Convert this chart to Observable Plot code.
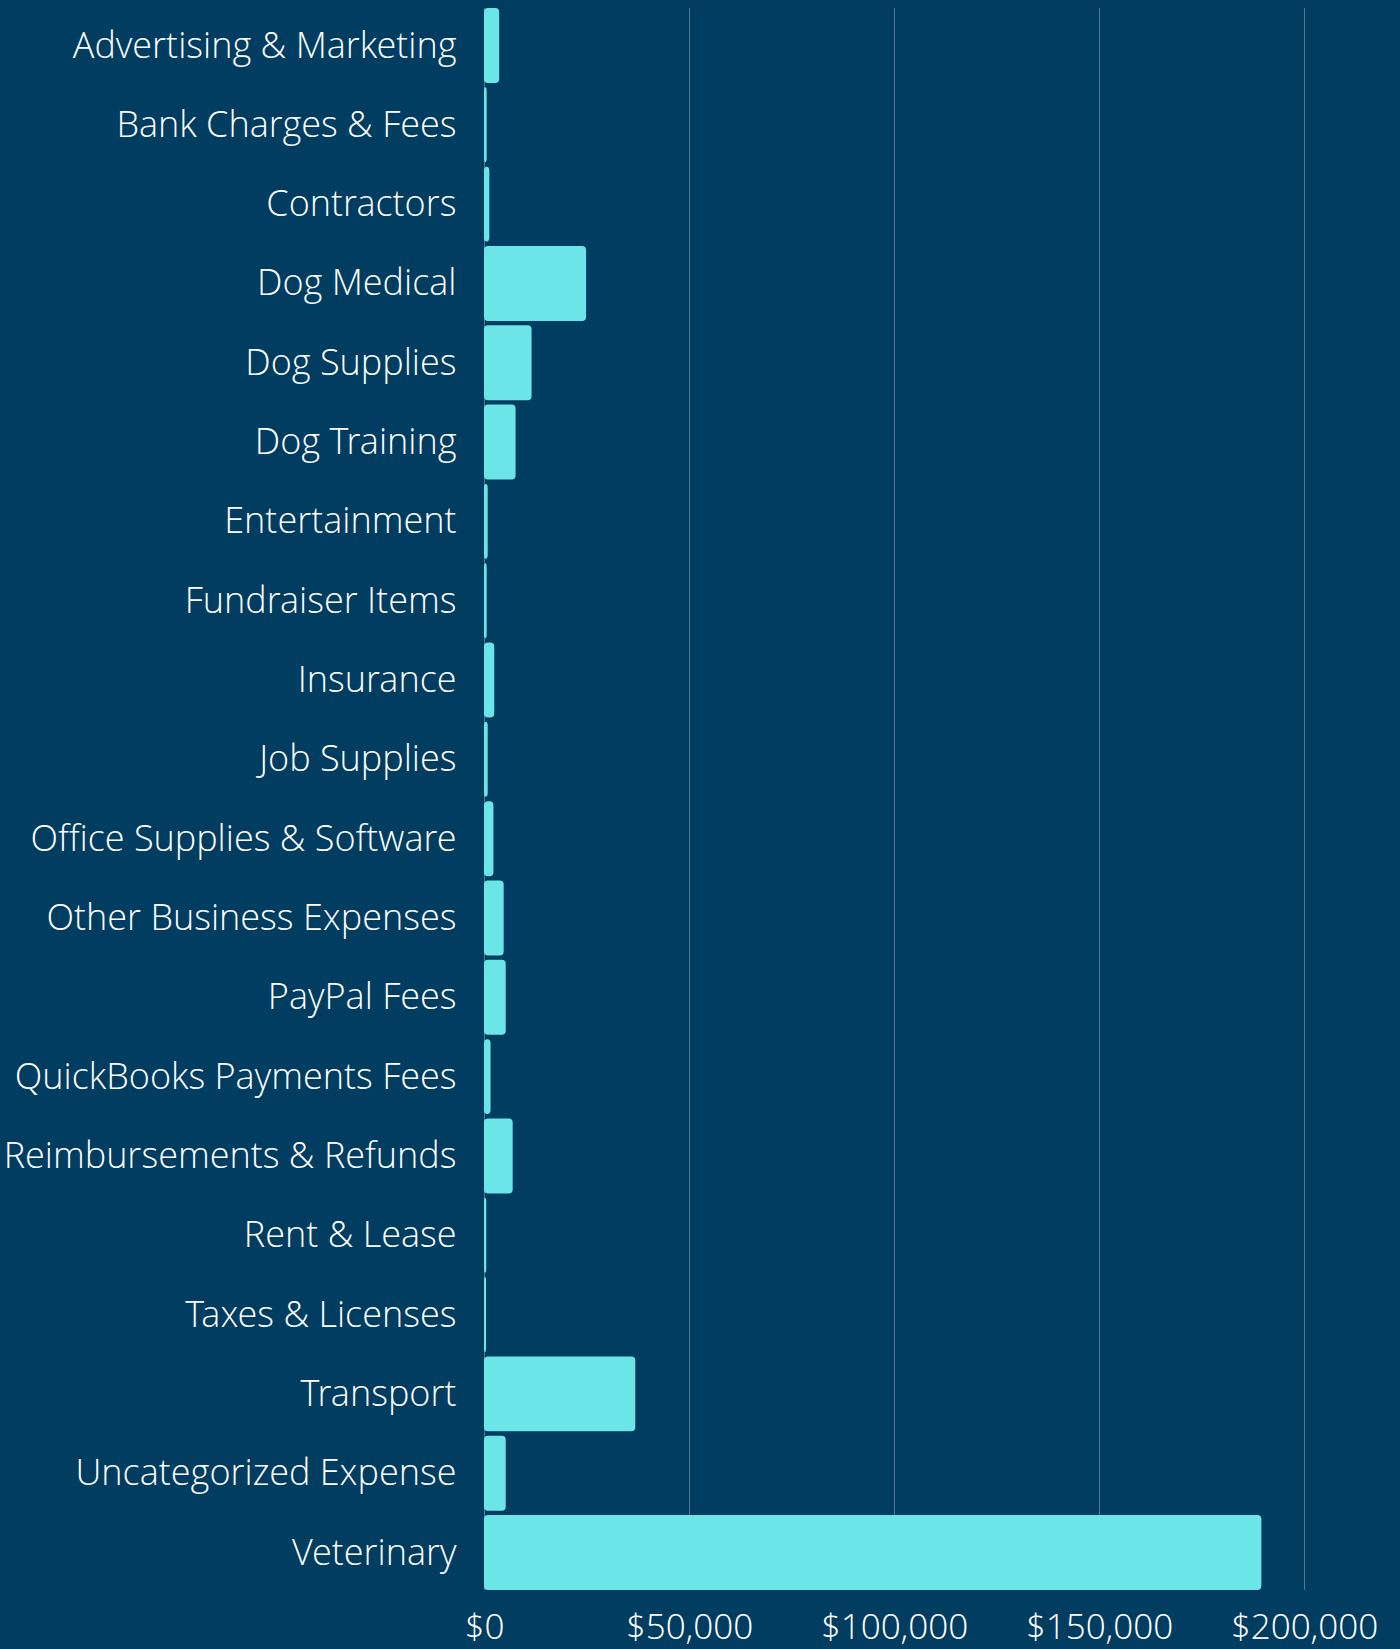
<!DOCTYPE html>
<html>
<head>
<meta charset="utf-8">
<script src="https://cdn.jsdelivr.net/npm/d3@7"></script>
<script src="https://cdn.jsdelivr.net/npm/@observablehq/plot@0.6"></script>
<style>
  html, body { margin: 0; padding: 0; background: #003d60; }
  #chart svg { display: block; }
</style>
</head>
<body>
<div id="chart"></div>
<script>
const categories = [
  "Advertising & Marketing",
  "Bank Charges & Fees",
  "Contractors",
  "Dog Medical",
  "Dog Supplies",
  "Dog Training",
  "Entertainment",
  "Fundraiser Items",
  "Insurance",
  "Job Supplies",
  "Office Supplies & Software",
  "Other Business Expenses",
  "PayPal Fees",
  "QuickBooks Payments Fees",
  "Reimbursements & Refunds",
  "Rent & Lease",
  "Taxes & Licenses",
  "Transport",
  "Uncategorized Expense",
  "Veterinary"
];
const amounts = [
  3700, 650, 1300, 24900, 11600, 7700, 900, 650, 2500, 900,
  2300, 4800, 5300, 1600, 7000, 550, 500, 36900, 5300, 189600
];
const xTicks = [0, 50000, 100000, 150000, 200000];

const data = categories.map((c, i) => ({category: c, amount: amounts[i]}));

const chart = Plot.plot({
  width: 1400,
  height: 1649,
  marginTop: 8,
  marginBottom: 59,
  marginLeft: 484,
  marginRight: 96,
  style: {
    background: "#003d60",
    color: "#ffffff",
    fontFamily: "'Open Sans Light', 'Open Sans', sans-serif",
    fontWeight: 300
  },
  x: {domain: [0, 200000]},
  y: {domain: categories, paddingInner: 0.055, paddingOuter: 0, round: false},
  marks: [
    Plot.gridX(xTicks, {stroke: "#4f7a96", strokeOpacity: 1, strokeWidth: 1}),
    Plot.barX(data, {
      x: "amount",
      y: "category",
      fill: "#6be5e8",
      rx: 4
    }),
    Plot.axisY({
      tickSize: 0,
      tickPadding: 28,
      fontSize: 36,
      label: null,
      fill: "#ffffff"
    }),
    Plot.axisX(xTicks, {
      tickSize: 0,
      tickPadding: 24,
      fontSize: 35,
      label: null,
      tickFormat: d3.format("$,"),
      fill: "#ffffff"
    })
  ]
});
document.getElementById("chart").appendChild(chart);
</script>
</body>
</html>
